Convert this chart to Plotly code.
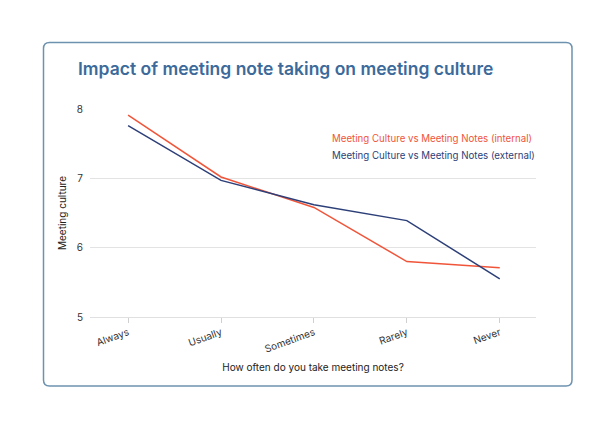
import plotly.graph_objects as go

categories = ["Always", "Usually", "Sometimes", "Rarely", "Never"]
internal = [7.91, 7.02, 6.58, 5.80, 5.71]
external = [7.76, 6.97, 6.62, 6.39, 5.55]
y_ticks = [5, 6, 7, 8]

RED = "#f0553a"
BLUE = "#2c3f78"
FONT = "Inter"

fig = go.Figure()
fig.add_trace(go.Scatter(x=categories, y=internal, mode="lines",
                         line=dict(color=RED, width=1.5),
                         name="Meeting Culture vs Meeting Notes (internal)"))
fig.add_trace(go.Scatter(x=categories, y=external, mode="lines",
                         line=dict(color=BLUE, width=1.5),
                         name="Meeting Culture vs Meeting Notes (external)"))

OFF = 8  # page body margin
W, H = 616, 429
# target plot area in screenshot pixels: x 90..536, y 109..317
L, T = 90 - OFF, 109 - OFF
R, B = W - (536 - OFF), H - (317 - OFF)
pw, ph = W - L - R, H - T - B

def px(x):
    return (x - OFF - L) / pw

def py(y):
    return (H - B - (y - OFF)) / ph

x0, x1, y0, y1 = px(43.5), px(572), py(42.5), py(386)
rx, ry = 6 / pw, 6 / ph
path = (f"M {x0+rx},{y0} L {x1-rx},{y0} Q {x1},{y0} {x1},{y0-ry} "
        f"L {x1},{y1+ry} Q {x1},{y1} {x1-rx},{y1} "
        f"L {x0+rx},{y1} Q {x0},{y1} {x0},{y1+ry} "
        f"L {x0},{y0-ry} Q {x0},{y0} {x0+rx},{y0} Z")

fig.add_shape(type="path", path=path, xref="paper", yref="paper",
              line=dict(color="#6d92b0", width=1.5), fillcolor="rgba(0,0,0,0)",
              layer="below")

fig.add_annotation(text="Impact of meeting note taking on meeting culture",
                   xref="paper", yref="paper", x=px(76), y=py(68),
                   xanchor="left", yanchor="middle", showarrow=False,
                   font=dict(family=FONT, size=17.5, color="#3b6a9b", weight=600))

fig.add_annotation(text="Meeting Culture vs Meeting Notes (internal)",
                   xref="paper", yref="paper", x=px(330), y=py(138),
                   xanchor="left", yanchor="middle", showarrow=False,
                   font=dict(family=FONT, size=9.7, color=RED))
fig.add_annotation(text="Meeting Culture vs Meeting Notes (external)",
                   xref="paper", yref="paper", x=px(330), y=py(155),
                   xanchor="left", yanchor="middle", showarrow=False,
                   font=dict(family=FONT, size=9.7, color=BLUE))

fig.update_layout(
    width=W, height=H,
    margin=dict(l=L, r=R, t=T, b=B),
    paper_bgcolor="white", plot_bgcolor="white",
    showlegend=False,
    font=dict(family=FONT, size=10, color="#333333"),
    xaxis=dict(type="category", range=[-0.41, 4.39], tickangle=-20, showgrid=False,
               ticks="outside", ticklen=5, tickcolor="#d0d0d0",
               showline=True, linecolor="#e0e0e0",
               tickfont=dict(size=10, color="#333333"),
               title=dict(text="How often do you take meeting notes?",
                          font=dict(size=10, color="#222222"), standoff=10)),
    yaxis=dict(range=[5, 8], tickvals=y_ticks, showgrid=True,
               gridcolor="#e3e3e3", gridwidth=1, zeroline=False,
               tickfont=dict(size=10, color="#333333"), ticklabelstandoff=6,
               title=dict(text="Meeting culture",
                          font=dict(size=10, color="#222222"), standoff=8)),
)

fig.write_html("out.html")
